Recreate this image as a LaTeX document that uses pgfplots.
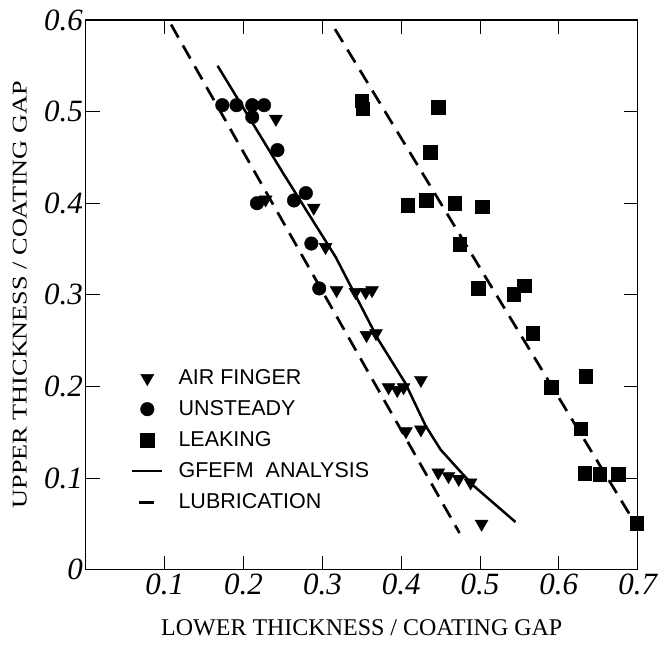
\documentclass[border=0pt]{standalone}
\usepackage{fontspec}
\setmainfont{Liberation Serif}
\newfontfamily\legfont{Liberation Sans}
\usepackage{pgfplots}
\pgfplotsset{compat=1.18}
\newcommand\leg{\fontsize{21.5}{21.5}\selectfont\legfont}

\begin{document}
\begin{tikzpicture}
\begin{axis}[
    name=ax,
    scale only axis,
    width=552pt, height=550pt,
    xmin=0, xmax=0.7,
    ymin=0, ymax=0.6,
    xtick={0.1,0.2,0.3,0.4,0.5,0.6,0.7},
    xticklabels={0.1,0.2,0.3,0.4,0.5,0.6,0.7},
    ytick={0,0.1,0.2,0.3,0.4,0.5,0.6},
    yticklabels={0,0.1,0.2,0.3,0.4,0.5,0.6},
    tick align=inside,
    major tick length=14pt,
    tick style={black, line width=0.9pt},
    axis line style={line width=1.1pt},
    ticklabel style={font=\fontsize{31}{31}\selectfont\itshape},
    yticklabel style={inner sep=3pt},
    xticklabel style={inner sep=4pt},
    xlabel={LOWER THICKNESS / COATING GAP},
    ylabel={\scalebox{1.25}[1]{UPPER THICKNESS / COATING GAP}},
    every axis x label/.style={at={(axis description cs:0.5,-0.105)}, anchor=center,
        font=\fontsize{24}{24}\selectfont},
    every axis y label/.style={at={(axis description cs:-0.12,0.5)}, rotate=90, anchor=center,
        font=\fontsize{21}{21}\selectfont},
    legend style={draw=none, fill=none,
        at={(axis description cs:0.076,0.371)}, anchor=north west,
        row sep=10.5pt, column sep=13pt},
    legend cell align=left,
    legend image code/.code={\draw[mark repeat=2,mark phase=2,#1] plot coordinates {(0pt,0pt)(15pt,0pt)(30pt,0pt)};},
]
% air finger
\addplot[only marks, mark=triangle*, mark size=7.5pt, mark options={rotate=180, fill=black}, black] coordinates {
(0.241,0.492)(0.228,0.404)(0.289,0.395)(0.304,0.352)(0.318,0.305)(0.342,0.303)
(0.355,0.303)(0.363,0.305)(0.356,0.256)(0.368,0.258)(0.425,0.207)(0.384,0.199)
(0.395,0.196)(0.403,0.199)(0.406,0.151)(0.425,0.153)(0.447,0.106)(0.460,0.102)
(0.473,0.099)(0.488,0.095)(0.502,0.050)};
\addlegendentry{\leg AIR FINGER}
% unsteady
\addplot[only marks, mark=*, mark size=6.8pt, black] coordinates {
(0.173,0.507)(0.191,0.507)(0.211,0.507)(0.226,0.507)(0.211,0.494)(0.243,0.458)
(0.217,0.400)(0.264,0.403)(0.279,0.411)(0.286,0.356)(0.296,0.307)};
\addlegendentry{\leg UNSTEADY}
% leaking
\addplot[only marks, mark=square*, mark size=6.8pt, black] coordinates {
(0.350,0.512)(0.351,0.503)(0.447,0.505)(0.437,0.456)(0.408,0.398)(0.432,0.403)
(0.468,0.400)(0.503,0.396)(0.474,0.355)(0.498,0.307)(0.543,0.301)(0.556,0.310)
(0.567,0.258)(0.590,0.199)(0.634,0.211)(0.628,0.154)(0.633,0.105)(0.652,0.104)
(0.675,0.104)(0.699,0.051)};
\addlegendentry{\leg LEAKING}
% GFEFM
\addplot[black, line width=2.5pt] coordinates {
(0.167,0.550)(0.250,0.433)(0.317,0.341)(0.371,0.251)(0.405,0.204)(0.431,0.157)
(0.450,0.131)(0.490,0.093)(0.545,0.052)};
\addlegendentry{\leg GFEFM\ \ ANALYSIS}
% lubrication
\addplot[black, line width=2.7pt, dash pattern=on 15pt off 9pt,
    legend image code/.code={\draw[black, line width=2.7pt] (7pt,0pt)--(24pt,0pt);}] coordinates {
(0.108,0.595)(0.474,0.040)};
\addlegendentry{\leg LUBRICATION}
\addplot[black, line width=2.7pt, dash pattern=on 15pt off 9pt, forget plot] coordinates {
(0.316,0.590)(0.700,0.046)};
\end{axis}
\path (ax.south west) ++(-86pt,-76pt);
\path (ax.north east) ++(23pt,20pt);
\end{tikzpicture}
\end{document}
